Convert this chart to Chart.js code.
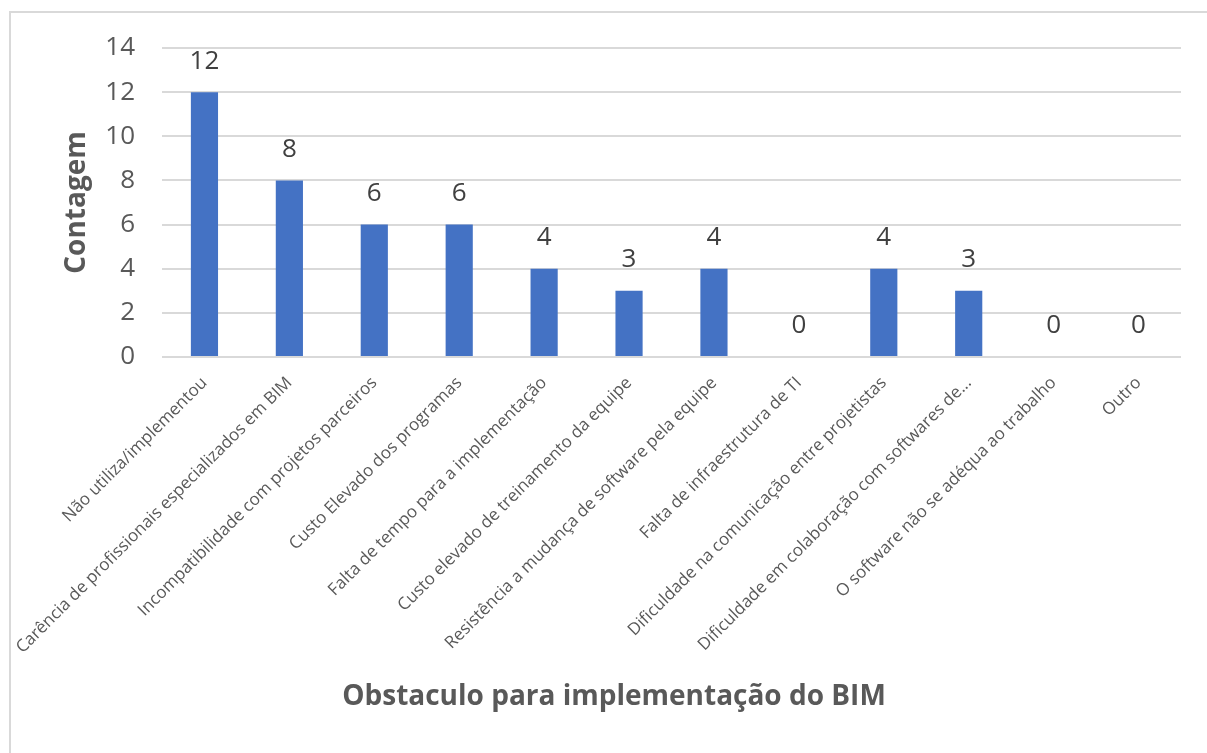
<!DOCTYPE html>
<html lang="pt">
<head>
<meta charset="utf-8">
<title>Obstaculo para implementação do BIM</title>
<script src="https://cdn.jsdelivr.net/npm/chart.js@4.4.1/dist/chart.umd.min.js"></script>
<style>
    html, body { margin: 0; padding: 0; background: #fff; }
    #wrap  { position: relative; width: 1207px; height: 753px; overflow: hidden; }
    #frame {
        position: absolute; left: 9px; top: 11px;
        width: 1300px; height: 900px;
        border-top: 2px solid #d9d9d9;
        border-left: 2px solid #d9d9d9;
    }
    #chart { position: absolute; left: 0; top: 0; }
</style>
</head>
<body>
<div id="wrap">
    <div id="frame"></div>
    <canvas id="chart" width="1207" height="753"></canvas>
</div>

<script>
// ─── Data ────────────────────────────────────────────────────────────────────
const categories = [
    'Não utiliza/implementou',
    'Carência de profissionais especializados em BIM',
    'Incompatibilidade com projetos parceiros',
    'Custo Elevado dos programas',
    'Falta de tempo para a implementação',
    'Custo elevado de treinamento da equipe',
    'Resistência a mudança de software pela equipe',
    'Falta de infraestrutura de TI',
    'Dificuldade na comunicação entre projetistas',
    'Dificuldade em colaboração com softwares de...',
    'O software não se adéqua ao trabalho',
    'Outro'
];
const counts    = [12, 8, 6, 6, 4, 3, 4, 0, 4, 3, 0, 0];
const yTicks    = [0, 2, 4, 6, 8, 10, 12, 14];

const xTitle = 'Obstaculo para implementação do BIM';
const yTitle = 'Contagem';

const FONT = '"Open Sans", "Noto Sans", sans-serif';

// ─── Plugins ─────────────────────────────────────────────────────────────────
// value above each bar
const valueLabels = {
    id: 'valueLabels',
    afterDatasetsDraw(chart) {
        const ctx  = chart.ctx;
        const meta = chart.getDatasetMeta(0);
        ctx.save();
        ctx.font         = '26px ' + FONT;
        ctx.fillStyle    = '#404040';
        ctx.textAlign    = 'center';
        ctx.textBaseline = 'middle';
        meta.data.forEach((bar, i) => {
            ctx.fillText(String(counts[i]), bar.x, bar.y - 31);
        });
        ctx.restore();
    }
};

// axis title under the rotated category labels
const bottomTitle = {
    id: 'bottomTitle',
    afterDraw(chart) {
        const ctx = chart.ctx;
        ctx.save();
        ctx.font         = 'bold 28px ' + FONT;
        ctx.fillStyle    = '#595959';
        ctx.textAlign    = 'center';
        ctx.textBaseline = 'middle';
        ctx.fillText(xTitle, 614, 697);
        ctx.restore();
    }
};

// ─── Chart ───────────────────────────────────────────────────────────────────
new Chart(document.getElementById('chart'), {
    type: 'bar',
    data: {
        labels: categories,
        datasets: [{
            data: counts,
            backgroundColor: '#4472c4',
            borderWidth: 0,
            barPercentage: 0.32,
            categoryPercentage: 1
        }]
    },
    options: {
        responsive: false,
        animation: false,
        layout: { padding: { left: 0, right: 26, top: 48, bottom: 0 } },
        plugins: {
            legend:  { display: false },
            tooltip: { enabled: false }
        },
        scales: {
            x: {
                grid:   { display: false },
                border: { display: false },
                ticks: {
                    autoSkip: false,
                    minRotation: 45,
                    maxRotation: 45,
                    padding: 8,
                    color: '#595959',
                    font: { family: FONT, size: 17 }
                },
                afterFit(scale) { scale.height = 753 - 357; }
            },
            y: {
                min: 0,
                max: 14,
                afterBuildTicks(scale) {
                    scale.ticks = yTicks.map(v => ({ value: v }));
                },
                grid: {
                    color: '#d9d9d9',
                    lineWidth: 2,
                    drawTicks: false
                },
                border: { display: false },
                ticks: {
                    padding: 27,
                    color: '#595959',
                    font: { family: FONT, size: 26 }
                },
                title: {
                    display: true,
                    text: yTitle,
                    color: '#595959',
                    font: { family: FONT, size: 28, weight: 'bold' },
                    padding: { top: 60, bottom: 0 }
                },
                afterFit(scale) { scale.width = 162; }
            }
        }
    },
    plugins: [valueLabels, bottomTitle]
});
</script>
</body>
</html>
